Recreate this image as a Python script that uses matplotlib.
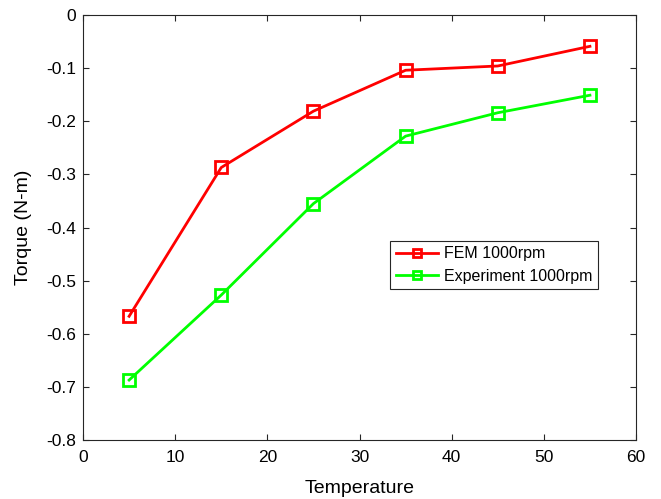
import matplotlib.pyplot as plt

plt.rcParams['font.family'] = ['Liberation Sans', 'DejaVu Sans']

temperature = [5, 15, 25, 35, 45, 55]
fem_torque = [-0.567, -0.287, -0.181, -0.104, -0.096, -0.059]
exp_torque = [-0.687, -0.527, -0.355, -0.228, -0.184, -0.151]

fig = plt.figure(figsize=(6.61, 4.99), dpi=100)
ax = fig.add_axes([0.1256, 0.118, 0.8366, 0.852])

ax.plot(temperature, fem_torque, color='#ff0000', lw=2, marker='s', ms=8,
        mfc='none', mew=2, label='FEM 1000rpm')
ax.plot(temperature, exp_torque, color='#00ff00', lw=2, marker='s', ms=8,
        mfc='none', mew=2, label='Experiment 1000rpm')

ax.set_xlim(0, 60)
ax.set_ylim(-0.8, 0)
ax.set_xticks(range(0, 61, 10))
ax.set_yticks([-0.8, -0.7, -0.6, -0.5, -0.4, -0.3, -0.2, -0.1, 0])
ax.set_yticklabels(['-0.8', '-0.7', '-0.6', '-0.5', '-0.4', '-0.3', '-0.2', '-0.1', '0'])
ax.tick_params(direction='in', top=True, right=True, length=4, width=0.8,
               labelsize=12.5, colors='#262626', labelcolor='black')
ax.tick_params(axis='x', pad=7)
ax.tick_params(axis='y', pad=5)
for s in ax.spines.values():
    s.set_color('#262626')
    s.set_linewidth(0.8)

ax.set_xlabel('Temperature', fontsize=14, labelpad=11)
ax.set_ylabel('Torque (N-m)', fontsize=14, labelpad=10)

leg = ax.legend(loc='lower right', bbox_to_anchor=(0.931, 0.355), fontsize=11.5,
                fancybox=False, framealpha=1, edgecolor='#262626',
                handlelength=2.6, handletextpad=0.4, borderpad=0.35,
                labelspacing=0.45, borderaxespad=0, markerscale=0.75)
leg.get_frame().set_linewidth(0.8)

fig.savefig('out.png', dpi=100)
